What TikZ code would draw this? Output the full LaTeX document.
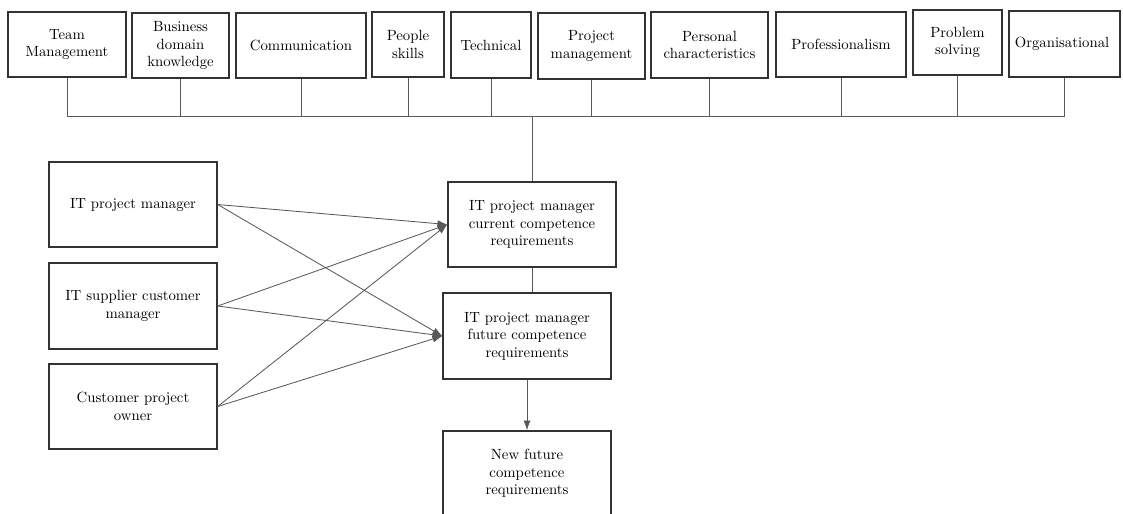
\documentclass[tikz,border=0pt]{standalone}
\usetikzlibrary{arrows.meta}
\tikzset
{
  box/.style={draw=black!80,line width=0.9pt,align=center,inner sep=1pt,
    font=\fontsize{10.5}{12.5}\selectfont},
  link/.style={black!65,line width=0.6pt},
  arr/.style={link,-{Latex[length=7pt,width=5pt]}}%实心箭头
}

\begin{document}
\begin{tikzpicture}[x=0.025cm,y=-0.025cm]%按像素坐标画，y向下
\useasboundingbox (0,0) rectangle (1123,513);
\coordinate (bus) at (0,116);%横向总线的高度
% 顶部十个能力框
\foreach \n/\xa/\xb/\ya/\yb/\txt in
{
  team/8/126/12/77/{Team\\Management},
  busi/132/229/13/78/{Business\\domain\\knowledge},
  comm/236/366/13/78/{Communication},
  people/372/444/12/77/{People\\skills},
  tech/451/531/12/78/{Technical},
  projm/538/645/13/79/{Project\\management},
  pers/651/768/12/78/{Personal\\characteristics},
  prof/776/906/12/77/{Professionalism},
  prob/913/1002/10/75/{Problem\\solving},
  org/1009/1120/11/77/{Organisational}
}
{
  \node[box,minimum width={(\xb-\xa)*0.025cm},minimum height={(\yb-\ya)*0.025cm}]
    (\n) at ({(\xa+\xb)/2},{(\ya+\yb)/2}) {\txt};
  \draw[link] (\n.south) -- (\n.south |- bus);
}
\draw[link] (team.south |- bus) -- (org.south |- bus);

% 左侧三个角色
\node[box,minimum width=4.2cm,minimum height=2.125cm] (itpm) at (133,204.5) {IT project manager};
\node[box,minimum width=4.2cm,minimum height=2.15cm]  (supp) at (133,306)   {IT supplier customer\\manager};
\node[box,minimum width=4.2cm,minimum height=2.125cm] (cust) at (133,406.5) {Customer project\\owner};

% 中间一列
\node[box,minimum width=4.2cm,minimum height=2.125cm] (cur)  at (532,224.5) {IT project manager\\current competence\\requirements};
\node[box,minimum width=4.2cm,minimum height=2.15cm]  (fut)  at (527,336)   {IT project manager\\future competence\\requirements};
\node[box,minimum width=4.2cm,minimum height=2.125cm] (newf) at (527,473.5) {New future\\competence\\requirements};

\draw[link] (cur.north |- bus) -- (cur.north);
\draw[link] (cur.south) -- (cur.south |- fut.north);
\draw[arr]  (fut.south) -- (newf.north);
\foreach \s in {itpm,supp,cust}
{
  \draw[arr] (\s.east) -- (cur.west);
  \draw[arr] (\s.east) -- (fut.west);
}
\end{tikzpicture}
\end{document}
